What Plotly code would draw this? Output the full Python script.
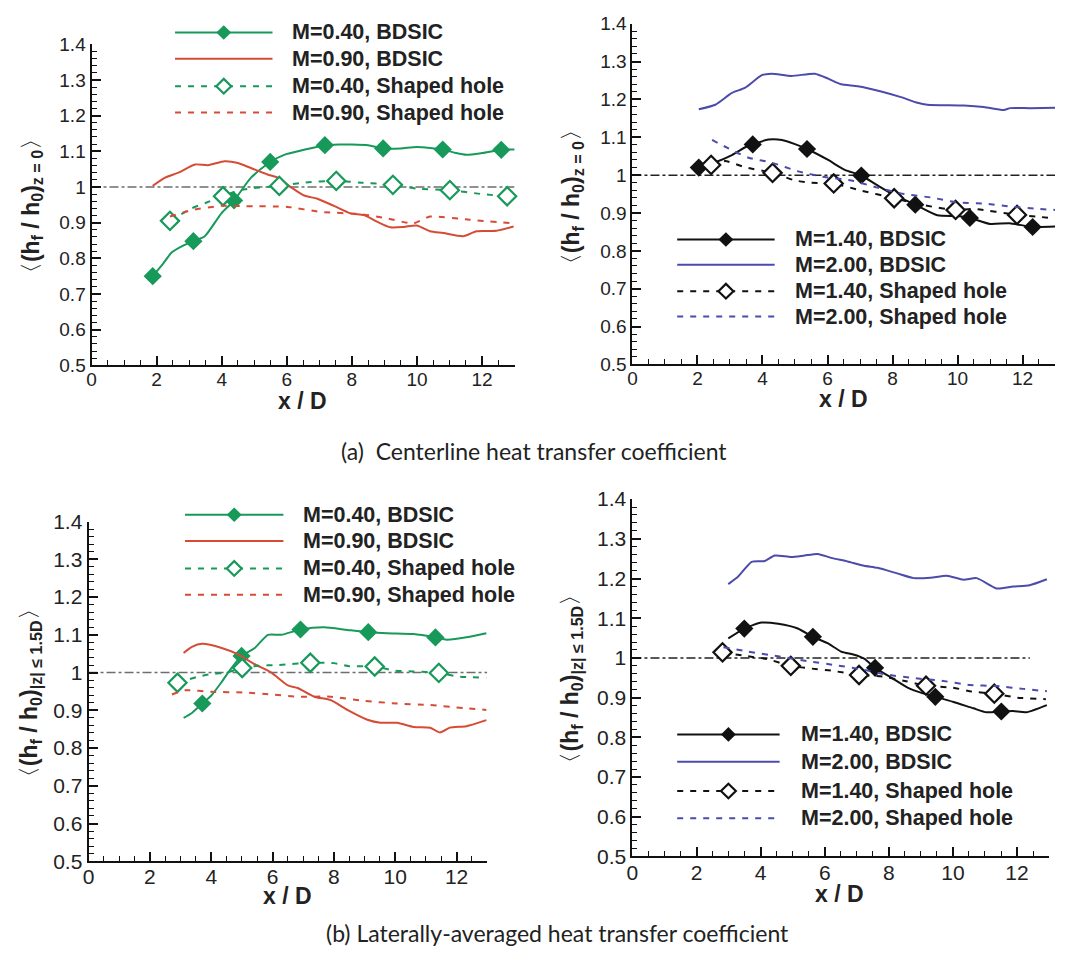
import plotly.graph_objects as go

# ---------------- data ----------------
# (a) centerline, left panel
a04_bd_x = [1.88, 2.2, 2.46, 2.8, 3.13, 3.48, 3.99, 4.38, 4.9, 5.49, 5.92, 6.53, 7.17, 7.6, 8.0, 8.5, 8.96, 9.5, 10.0, 10.79, 11.2, 11.52, 12.0, 12.59, 13.0]
a04_bd_y = [0.75, 0.785, 0.816, 0.835, 0.848, 0.862, 0.926, 0.962, 1.026, 1.07, 1.09, 1.104, 1.117, 1.119, 1.119, 1.117, 1.108, 1.108, 1.112, 1.105, 1.095, 1.09, 1.095, 1.104, 1.105]
a04_bd_mx = [1.88, 3.13, 4.38, 5.49, 7.17, 8.96, 10.79, 12.59]
a04_bd_my = [0.75, 0.848, 0.962, 1.07, 1.117, 1.108, 1.105, 1.104]

a09_bd_x = [1.88, 2.26, 2.67, 3.18, 3.58, 4.09, 4.5, 4.9, 5.41, 5.72, 6.13, 6.53, 6.94, 7.45, 7.96, 8.37, 8.77, 9.18, 9.59, 9.99, 10.4, 10.81, 11.42, 11.83, 12.44, 12.97]
a09_bd_y = [1.003, 1.026, 1.04, 1.063, 1.061, 1.072, 1.067, 1.053, 1.035, 1.026, 0.999, 0.976, 0.967, 0.947, 0.926, 0.921, 0.903, 0.887, 0.888, 0.892, 0.876, 0.871, 0.862, 0.876, 0.877, 0.889]

a04_sh_x = [2.41, 3.07, 3.5, 4.04, 4.5, 5.0, 5.77, 6.5, 7.52, 8.3, 9.26, 10.0, 11.01, 12.0, 12.77, 13.0]
a04_sh_y = [0.905, 0.94, 0.955, 0.974, 0.99, 0.997, 1.003, 1.012, 1.017, 1.012, 1.006, 0.995, 0.991, 0.98, 0.974, 0.975]
a04_sh_mx = [2.41, 4.04, 5.77, 7.52, 9.26, 11.01, 12.77]
a04_sh_my = [0.905, 0.974, 1.003, 1.017, 1.006, 0.991, 0.974]

a09_sh_x = [2.41, 3.07, 3.99, 4.7, 6.03, 7.04, 8.26, 9.08, 9.89, 10.4, 11.62, 12.97]
a09_sh_y = [0.917, 0.935, 0.947, 0.946, 0.944, 0.93, 0.924, 0.912, 0.898, 0.917, 0.908, 0.898]

# (a) centerline, right panel
a14_bd_x = [2.04, 2.55, 3.06, 3.5, 3.7, 4.18, 4.6, 5.0, 5.37, 6.02, 6.53, 7.04, 7.5, 8.0, 8.7, 9.38, 10.0, 10.38, 11.0, 11.6, 12.31, 13.0]
a14_bd_y = [1.02, 1.034, 1.053, 1.075, 1.081, 1.094, 1.093, 1.082, 1.069, 1.04, 1.014, 0.999, 0.975, 0.95, 0.922, 0.894, 0.892, 0.887, 0.871, 0.873, 0.863, 0.864]
a14_bd_mx = [2.04, 3.70, 5.37, 7.04, 8.70, 10.38, 12.31]
a14_bd_my = [1.02, 1.081, 1.069, 0.999, 0.922, 0.887, 0.863]

a20_bd_x = [2.04, 2.55, 3.06, 3.47, 3.98, 4.28, 4.89, 5.61, 6.02, 6.42, 6.93, 7.65, 8.26, 8.77, 9.07, 10.2, 10.81, 11.42, 11.62, 12.23, 13.0]
a20_bd_y = [1.174, 1.186, 1.217, 1.231, 1.264, 1.268, 1.262, 1.268, 1.255, 1.24, 1.235, 1.221, 1.206, 1.191, 1.186, 1.184, 1.18, 1.172, 1.177, 1.177, 1.178]

a14_sh_x = [2.42, 2.85, 3.5, 4.31, 5.0, 5.5, 6.19, 7.0, 8.05, 9.0, 9.94, 10.5, 11.83, 12.5, 13.0]
a14_sh_y = [1.027, 1.037, 1.02, 1.006, 0.986, 0.98, 0.978, 0.96, 0.939, 0.92, 0.908, 0.911, 0.895, 0.89, 0.885]
a14_sh_mx = [2.42, 4.31, 6.19, 8.05, 9.94, 11.83]
a14_sh_my = [1.027, 1.006, 0.978, 0.939, 0.908, 0.895]

a20_sh_x = [2.45, 3.06, 3.57, 4.28, 5.1, 5.91, 6.73, 7.54, 8.36, 9.18, 9.99, 10.81, 11.62, 12.44, 13.0]
a20_sh_y = [1.093, 1.066, 1.046, 1.033, 1.01, 0.995, 0.986, 0.967, 0.95, 0.941, 0.928, 0.925, 0.917, 0.911, 0.908]

# (b) laterally averaged, left panel
b04_bd_x = [3.10, 3.37, 3.71, 4.01, 4.34, 4.55, 4.99, 5.42, 5.85, 6.28, 6.91, 7.68, 8.44, 9.12, 9.73, 10.6, 11.31, 11.68, 12.43, 12.97]
b04_bd_y = [0.88, 0.893, 0.918, 0.94, 0.975, 1.0, 1.044, 1.065, 1.1, 1.1, 1.114, 1.12, 1.113, 1.107, 1.104, 1.102, 1.093, 1.087, 1.095, 1.104]
b04_bd_mx = [3.71, 4.99, 6.91, 9.12, 11.31]
b04_bd_my = [0.918, 1.044, 1.114, 1.107, 1.093]

b09_bd_x = [3.10, 3.37, 3.71, 4.34, 4.88, 5.42, 5.96, 6.5, 6.82, 7.36, 7.9, 8.44, 9.09, 9.52, 10.06, 10.6, 11.14, 11.46, 11.78, 12.32, 12.97]
b09_bd_y = [1.052, 1.068, 1.076, 1.065, 1.048, 1.022, 1.0, 0.966, 0.959, 0.936, 0.927, 0.901, 0.875, 0.867, 0.867, 0.856, 0.854, 0.841, 0.854, 0.858, 0.874]

b04_sh_x = [2.9, 3.53, 4.0, 4.5, 5.01, 5.5, 6.2, 7.23, 8.0, 8.5, 9.33, 10.0, 10.6, 11.42, 12.0, 12.97]
b04_sh_y = [0.973, 0.988, 0.996, 1.0, 1.012, 1.018, 1.02, 1.026, 1.025, 1.017, 1.016, 1.005, 1.003, 0.999, 0.99, 0.986]
b04_sh_mx = [2.9, 5.01, 7.23, 9.33, 11.42]
b04_sh_my = [0.973, 1.012, 1.026, 1.016, 0.999]

b09_sh_x = [2.72, 3.15, 4.01, 5.09, 5.96, 6.82, 7.9, 8.98, 10.06, 11.14, 12.22, 12.97]
b09_sh_y = [0.942, 0.953, 0.949, 0.947, 0.942, 0.936, 0.936, 0.925, 0.918, 0.914, 0.906, 0.901]

# (b) laterally averaged, right panel
b14_bd_x = [2.99, 3.49, 4.03, 4.55, 5.16, 5.63, 6.09, 6.51, 6.92, 7.23, 7.57, 8.06, 8.57, 9.09, 9.45, 10.02, 10.64, 11.05, 11.51, 11.88, 12.29, 12.93]
b14_bd_y = [1.049, 1.074, 1.089, 1.086, 1.074, 1.053, 1.037, 1.016, 1.008, 0.998, 0.975, 0.951, 0.926, 0.91, 0.902, 0.889, 0.873, 0.863, 0.865, 0.866, 0.863, 0.881]
b14_bd_mx = [3.49, 5.63, 7.57, 9.45, 11.51]
b14_bd_my = [1.074, 1.053, 0.975, 0.902, 0.865]

b20_bd_x = [2.99, 3.30, 3.72, 4.13, 4.44, 4.96, 5.37, 5.78, 6.2, 6.71, 7.23, 7.64, 8.26, 8.78, 9.3, 9.81, 10.33, 10.74, 11.36, 11.88, 12.39, 12.93]
b20_bd_y = [1.186, 1.205, 1.242, 1.244, 1.258, 1.254, 1.258, 1.262, 1.252, 1.243, 1.232, 1.227, 1.213, 1.201, 1.202, 1.207, 1.197, 1.201, 1.175, 1.18, 1.183, 1.198]

b14_sh_x = [2.81, 3.61, 4.2, 4.94, 5.6, 6.2, 7.07, 7.8, 8.5, 9.16, 10.0, 10.6, 11.29, 12.0, 12.9]
b14_sh_y = [1.014, 1.004, 0.997, 0.98, 0.973, 0.968, 0.957, 0.953, 0.942, 0.93, 0.925, 0.915, 0.91, 0.9, 0.896]
b14_sh_mx = [2.81, 4.94, 7.07, 9.16, 11.29]
b14_sh_my = [1.014, 0.98, 0.957, 0.93, 0.91]

b20_sh_x = [2.84, 3.61, 4.54, 5.47, 6.4, 7.23, 7.85, 8.78, 9.6, 10.53, 11.36, 12.19, 12.93]
b20_sh_y = [1.027, 1.016, 1.004, 0.992, 0.981, 0.97, 0.959, 0.949, 0.943, 0.932, 0.929, 0.922, 0.916]

# reference line h_f/h_0 = 1
ref_y = 1.0
ref_x_end = [13.0, 13.0, 13.0, 12.4]

# axis ticks
x_tickvals = [0, 2, 4, 6, 8, 10, 12]
x_ticktext = ["0", "2", "4", "6", "8", "10", "12"]
y_tickvals = [0.5, 0.6, 0.7, 0.8, 0.9, 1.0, 1.1, 1.2, 1.3, 1.4]
y_ticktext = ["0.5", "0.6", "0.7", "0.8", "0.9", "1", "1.1", "1.2", "1.3", "1.4"]

legend_left = ["M=0.40, BDSIC", "M=0.90, BDSIC", "M=0.40, Shaped hole", "M=0.90, Shaped hole"]
legend_right = ["M=1.40, BDSIC", "M=2.00, BDSIC", "M=1.40, Shaped hole", "M=2.00, Shaped hole"]

caption_a = "(a)  Centerline heat transfer coefficient"
caption_b = "(b) Laterally-averaged heat transfer coefficient"

# ---------------- styling ----------------
W, H = 1065, 966
GREEN = "#17995a"
RED = "#d64b36"
BLUE = "#4b4bab"
BLACK = "#111111"
DASH = "6px,7px"
FONT = "Liberation Sans, Arial, sans-serif"


def px(x):
    return x / W


def py(y):
    return 1 - y / H


# panel pixel boxes: (x_left, x_right, y_bottom, y_top)
panels = [
    dict(box=(86, 511.5, 362, 33), tick=19, title="z = 0", tx=26, ty=199,
         xt=(298, 398)),
    dict(box=(630, 1055, 361, 12), tick=19, title="z = 0", tx=570, ty=190,
         xt=(842, 396)),
    dict(box=(83, 484, 870, 522), tick=21, title="|z| ≤ 1.5D", tx=25, ty=698,
         xt=(283, 906)),
    dict(box=(630, 1049, 865, 499), tick=21, title="|z| ≤ 1.5D", tx=569, ty=683,
         xt=(838, 903)),
]

series = [
    [(a04_bd_x, a04_bd_y, GREEN, "solid", a04_bd_mx, a04_bd_my, True),
     (a09_bd_x, a09_bd_y, RED, "solid", None, None, None),
     (a04_sh_x, a04_sh_y, GREEN, DASH, a04_sh_mx, a04_sh_my, False),
     (a09_sh_x, a09_sh_y, RED, DASH, None, None, None)],
    [(a14_bd_x, a14_bd_y, BLACK, "solid", a14_bd_mx, a14_bd_my, True),
     (a20_bd_x, a20_bd_y, BLUE, "solid", None, None, None),
     (a14_sh_x, a14_sh_y, BLACK, DASH, a14_sh_mx, a14_sh_my, False),
     (a20_sh_x, a20_sh_y, BLUE, DASH, None, None, None)],
    [(b04_bd_x, b04_bd_y, GREEN, "solid", b04_bd_mx, b04_bd_my, True),
     (b09_bd_x, b09_bd_y, RED, "solid", None, None, None),
     (b04_sh_x, b04_sh_y, GREEN, DASH, b04_sh_mx, b04_sh_my, False),
     (b09_sh_x, b09_sh_y, RED, DASH, None, None, None)],
    [(b14_bd_x, b14_bd_y, BLACK, "solid", b14_bd_mx, b14_bd_my, True),
     (b20_bd_x, b20_bd_y, BLUE, "solid", None, None, None),
     (b14_sh_x, b14_sh_y, BLACK, DASH, b14_sh_mx, b14_sh_my, False),
     (b20_sh_x, b20_sh_y, BLUE, DASH, None, None, None)],
]

legend_pos = [  # line x0, x1, text x, row ys
    (170, 268, 286, [21, 48, 76, 103]),
    (675, 773, 791, [233, 259, 286, 312]),
    (180, 279, 297, [515, 542, 570, 597]),
    (675, 778, 797, [740, 768, 798, 826]),
]
legend_labels = [legend_left, legend_right, legend_left, legend_right]
ref_colors = ["#6e6e6e", "#222222", "#6e6e6e", "#222222"]

fig = go.Figure()
layout = dict(width=W, height=H, margin=dict(l=0, r=0, t=0, b=0),
              paper_bgcolor="white", plot_bgcolor="white", showlegend=False)
shapes, annotations = [], []

for i, p in enumerate(panels):
    k = "" if i == 0 else str(i + 1)
    xl, xr, yb, yt = p["box"]
    ax = dict(domain=[px(xl), px(xr)], range=[0, 13], showline=True, linecolor="#111",
              linewidth=2, ticks="inside", ticklen=9, tickwidth=1.5, tickcolor="#111",
              tickvals=x_tickvals, ticktext=x_ticktext, showgrid=False, zeroline=False,
              ticklabelstandoff=-4,
              tickfont=dict(family=FONT, size=p["tick"], color="#222"),
              minor=dict(ticks="inside", dtick=0.5, ticklen=5, tickwidth=1, tickcolor="#111"),
              anchor="y" + k)
    ay = dict(domain=[py(yb), py(yt)], range=[0.5, 1.4], showline=True, linecolor="#111",
              linewidth=2, ticks="inside", ticklen=9, tickwidth=1.5, tickcolor="#111",
              tickvals=y_tickvals, ticktext=y_ticktext, showgrid=False, zeroline=False,
              tickfont=dict(family=FONT, size=p["tick"], color="#222"),
              minor=dict(ticks="inside", dtick=0.02, ticklen=5, tickwidth=1, tickcolor="#111"),
              anchor="x" + k)
    layout["xaxis" + k] = ax
    layout["yaxis" + k] = ay

    shapes.append(dict(type="line", xref="x" + k, yref="y" + k, x0=0, x1=ref_x_end[i],
                       y0=ref_y, y1=ref_y, layer="below",
                       line=dict(color=ref_colors[i], width=1.5, dash="dashdot")))

    for (xs, ys, col, dash, mx, my, filled) in series[i]:
        fig.add_trace(go.Scatter(x=xs, y=ys, mode="lines", xaxis="x" + k, yaxis="y" + k,
                                 line=dict(color=col, width=2, dash=dash, shape="spline",
                                           smoothing=0.6)))
        if mx is not None:
            fig.add_trace(go.Scatter(
                x=mx, y=my, mode="markers", xaxis="x" + k, yaxis="y" + k, cliponaxis=False,
                marker=dict(symbol="diamond", size=14,
                            color=col if filled else "white",
                            line=dict(color=col, width=2.2 if not filled else 0))))

    # legend (drawn)
    lx0, lx1, tx, rows = legend_pos[i]
    for j, (xs, ys, col, dash, mx, my, filled) in enumerate(series[i]):
        yy = rows[j]
        shapes.append(dict(type="line", xref="paper", yref="paper", x0=px(lx0), x1=px(lx1),
                           y0=py(yy), y1=py(yy), line=dict(color=col, width=2, dash=dash)))
        if mx is not None:
            cx = (lx0 + lx1) / 2
            r = 7.5
            path = (f"M {px(cx - r)} {py(yy)} L {px(cx)} {py(yy - r)} "
                    f"L {px(cx + r)} {py(yy)} L {px(cx)} {py(yy + r)} Z")
            shapes.append(dict(type="path", xref="paper", yref="paper", path=path,
                               fillcolor=col if filled else "white",
                               line=dict(color=col, width=2.2 if not filled else 0)))
        annotations.append(dict(x=px(tx), y=py(yy), xref="paper", yref="paper",
                                text=f"<b>{legend_labels[i][j]}</b>", showarrow=False,
                                xanchor="left", yanchor="middle",
                                font=dict(family=FONT, size=21.5, color="#222")))

    xt_x, xt_y = p["xt"]
    annotations.append(dict(x=px(xt_x), y=py(xt_y), xref="paper", yref="paper",
                            text="<b>x / D</b>", showarrow=False, xanchor="center",
                            yanchor="middle", font=dict(family=FONT, size=23, color="#222")))
    sub = p["title"]
    ytxt = ("<span style='font-weight:normal'>〈</span><b>(h<sub>f</sub> / h<sub>0</sub>)"
            f"<sub>{sub}</sub></b><span style='font-weight:normal'>〉</span>")
    annotations.append(dict(x=px(p["tx"]), y=py(p["ty"]), xref="paper", yref="paper",
                            text=ytxt, showarrow=False, textangle=-90,
                            xanchor="center", yanchor="middle",
                            font=dict(family=FONT, size=23, color="#222")))

annotations.append(dict(x=px(531), y=py(450), xref="paper", yref="paper", text=caption_a,
                        showarrow=False, xanchor="center", yanchor="middle",
                        font=dict(family="Lato, sans-serif", size=23, color="#222")))
annotations.append(dict(x=px(555), y=py(943), xref="paper", yref="paper", text=caption_b,
                        showarrow=False, xanchor="center", yanchor="middle",
                        font=dict(family="Lato, sans-serif", size=23, color="#222")))

layout["shapes"] = shapes
layout["annotations"] = annotations
fig.update_layout(**layout)
fig.write_html("out.html")
